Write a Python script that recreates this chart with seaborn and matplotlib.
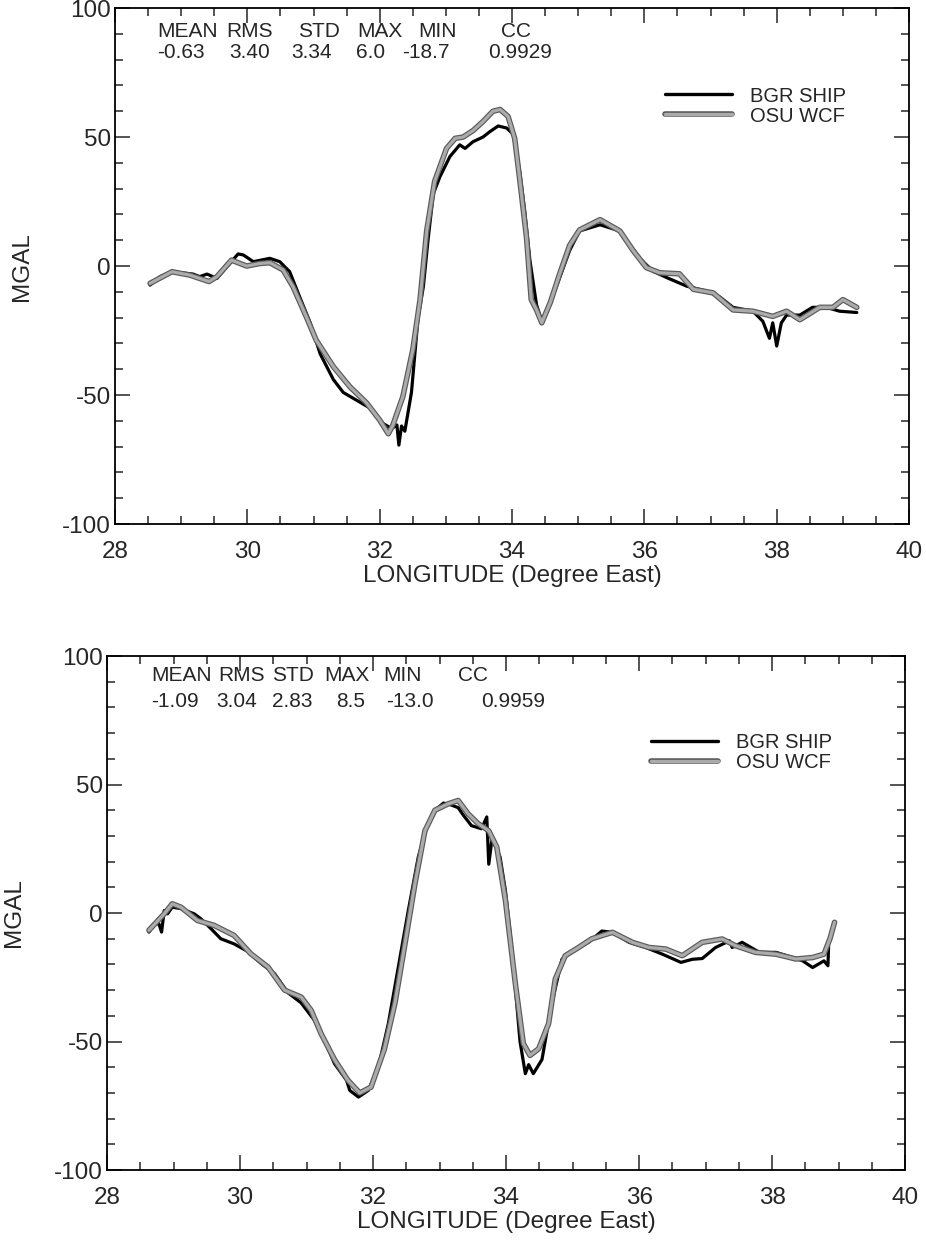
import matplotlib
matplotlib.use('Agg')
import matplotlib.pyplot as plt
import matplotlib.patheffects as pe
from matplotlib.ticker import MultipleLocator
import pandas as pd
import seaborn as sns

# adjustable constants
FONT_FAMILY = ['Liberation Sans', 'DejaVu Sans']
TICK_FONT_SIZE = 17.5
LABEL_FONT_SIZE = 17.5
STATS_FONT_SIZE = 15
LEGEND_FONT_SIZE = 14.5
SHIP_COLOR = 'black'
WCF_COLOR = '#ababab'
WCF_EDGE = '#5a5a5a'
XLIM = (28, 40)
YLIM = (-100, 100)
XLABEL = 'LONGITUDE (Degree East)'
YLABEL = 'MGAL'

STAT_NAMES = ['MEAN', 'RMS', 'STD', 'MAX', 'MIN', 'CC']
TOP_STATS = ['-0.63', '3.40', '3.34', '6.0', '-18.7', '0.9929']
BOTTOM_STATS = ['-1.09', '3.04', '2.83', '8.5', '-13.0', '0.9959']

# top profile, BGR ship gravity
top_ship_lon = [28.53, 28.68, 28.86, 29.18, 29.28, 29.39, 29.54, 29.69, 29.86, 29.94,
                30.09, 30.34, 30.49, 30.64, 30.79, 30.95, 31.10, 31.30, 31.45, 31.65,
                31.85, 32.05, 32.18, 32.26, 32.29, 32.33, 32.38, 32.48, 32.58, 32.66,
                32.73, 32.81, 32.91, 33.06, 33.21, 33.29, 33.41, 33.56, 33.66, 33.79,
                33.92, 34.02, 34.12, 34.19, 34.27, 34.37, 34.45, 34.58, 34.72, 34.87,
                35.02, 35.33, 35.63, 35.93, 36.13, 36.34, 36.64, 36.94, 37.14, 37.34,
                37.64, 37.79, 37.89, 37.94, 38.00, 38.07, 38.15, 38.35, 38.54, 38.75,
                38.95, 39.21]
top_ship_val = [-7.4, -4.1, -2.2, -3.1, -4.1, -3.1, -4.8, -0.3, 4.7, 4.3,
                1.7, 3.0, 1.7, -2.2, -11.9, -22.0, -34.0, -44.0, -49.0, -52.0,
                -55.0, -61.0, -63.0, -61.6, -69.4, -62.0, -64.0, -49.0, -20.0, -8.0,
                10.0, 28.0, 34.6, 42.4, 47.0, 45.6, 48.2, 50.0, 52.0, 54.3,
                53.5, 51.0, 36.0, 21.7, 2.3, -15.0, -21.4, -14.0, -4.5, 6.0,
                13.6, 16.0, 13.6, 3.0, -2.0, -4.5, -7.8, -9.7, -12.0, -16.0,
                -17.5, -21.4, -28.0, -22.0, -31.0, -22.0, -19.0, -19.0, -16.0, -16.0,
                -17.5, -18.0]

# top profile, OSU WCF
top_wcf_lon = [28.53, 28.86, 29.13, 29.42, 29.54, 29.76, 29.99, 30.19, 30.34, 30.54,
               30.69, 30.89, 31.04, 31.30, 31.55, 31.80, 32.00, 32.13, 32.20, 32.35,
               32.50, 32.61, 32.71, 32.83, 33.01, 33.14, 33.26, 33.41, 33.56, 33.71,
               33.82, 33.94, 34.04, 34.12, 34.22, 34.29, 34.37, 34.45, 34.58, 34.72,
               34.87, 35.02, 35.33, 35.63, 35.83, 36.03, 36.23, 36.53, 36.74, 37.04,
               37.34, 37.64, 37.94, 38.15, 38.35, 38.65, 38.85, 39.00, 39.21]
top_wcf_val = [-6.7, -2.2, -3.5, -6.0, -4.1, 2.3, 0.0, 1.0, 1.3, -1.5,
               -8.0, -19.6, -28.7, -39.0, -46.8, -53.0, -59.7, -65.0, -61.6, -50.6,
               -32.5, -13.0, 13.6, 32.8, 45.6, 49.5, 50.0, 52.5, 56.0, 60.0,
               60.7, 58.0, 49.5, 32.8, 10.8, -13.0, -17.0, -22.0, -14.0, -3.0,
               8.0, 14.0, 18.0, 13.6, 6.0, -0.6, -2.6, -3.0, -9.0, -10.4,
               -17.0, -17.5, -19.5, -17.5, -20.8, -16.0, -16.0, -13.0, -16.0]

# bottom profile, BGR ship gravity
bottom_ship_lon = [28.63, 28.71, 28.78, 28.82, 28.86, 28.91, 28.98, 29.11, 29.31, 29.41,
                   29.56, 29.71, 29.91, 30.12, 30.32, 30.52, 30.72, 30.92, 31.12, 31.27,
                   31.42, 31.60, 31.65, 31.78, 31.93, 32.08, 32.23, 32.38, 32.53, 32.68,
                   32.81, 32.93, 33.06, 33.18, 33.28, 33.36, 33.48, 33.63, 33.71, 33.74,
                   33.79, 33.91, 33.99, 34.09, 34.21, 34.29, 34.34, 34.41, 34.54, 34.69,
                   34.84, 35.04, 35.24, 35.44, 35.60, 35.85, 36.10, 36.35, 36.63, 36.80,
                   36.95, 37.15, 37.36, 37.40, 37.55, 37.81, 38.06, 38.31, 38.46, 38.61,
                   38.78, 38.84, 38.85]
bottom_ship_val = [-7.4, -4.2, -4.2, -7.4, 1.0, -0.3, 2.3, 1.7, -0.3, -2.2,
                   -6.0, -10.0, -12.0, -15.0, -19.7, -23.6, -31.0, -35.0, -41.8, -49.5,
                   -58.6, -65.0, -69.0, -71.6, -69.0, -60.0, -43.0, -21.0, 1.0, 21.8,
                   33.5, 40.0, 42.8, 42.0, 41.0, 38.0, 34.0, 32.8, 37.4, 19.0,
                   29.0, 21.8, 8.8, -14.5, -50.0, -62.5, -59.0, -62.5, -57.0, -35.0,
                   -18.0, -14.0, -11.4, -7.0, -7.5, -11.4, -13.4, -16.0, -19.2, -18.0,
                   -17.7, -13.4, -10.8, -13.4, -11.4, -15.3, -15.3, -17.3, -18.6, -21.2,
                   -18.6, -20.5, -12.7]

# bottom profile, OSU WCF
bottom_wcf_lon = [28.63, 28.86, 28.98, 29.11, 29.36, 29.61, 29.91, 30.16, 30.42, 30.67,
                  30.92, 31.07, 31.22, 31.42, 31.62, 31.80, 31.97, 32.17, 32.33, 32.48,
                  32.63, 32.78, 32.93, 33.13, 33.28, 33.43, 33.58, 33.74, 33.86, 33.99,
                  34.14, 34.26, 34.36, 34.49, 34.64, 34.74, 34.89, 35.09, 35.29, 35.60,
                  35.90, 36.15, 36.40, 36.65, 36.95, 37.25, 37.45, 37.75, 38.06, 38.36,
                  38.61, 38.78, 38.87, 38.94]
bottom_wcf_val = [-6.7, -0.3, 3.6, 2.3, -2.9, -4.8, -8.7, -15.8, -21.0, -30.0,
                  -32.7, -37.9, -47.0, -57.0, -65.0, -70.0, -67.7, -53.0, -35.0, -12.0,
                  11.4, 32.0, 40.0, 42.5, 43.8, 38.6, 34.8, 32.0, 25.7, 5.0,
                  -27.5, -50.8, -55.4, -52.8, -43.0, -25.7, -16.6, -13.4, -10.0, -7.5,
                  -11.4, -13.4, -14.0, -16.6, -11.4, -10.1, -12.7, -15.3, -16.0, -17.9,
                  -17.3, -16.0, -10.0, -3.6]


def make_frame(lon, val, source):
    return pd.DataFrame({'lon': lon, 'mgal': val, 'source': source})


def style_axes(ax):
    ax.set_xlim(XLIM)
    ax.set_ylim(YLIM)
    ax.xaxis.set_major_locator(MultipleLocator(2))
    ax.xaxis.set_minor_locator(MultipleLocator(0.5))
    ax.yaxis.set_major_locator(MultipleLocator(50))
    ax.yaxis.set_minor_locator(MultipleLocator(10))
    ax.tick_params(which='both', direction='in', top=True, right=True, width=1.1)
    ax.tick_params(which='major', length=11)
    ax.tick_params(which='minor', length=6)
    ax.tick_params(axis='x', which='major', pad=12, labelsize=TICK_FONT_SIZE)
    ax.tick_params(axis='y', which='major', pad=3, labelsize=TICK_FONT_SIZE)
    for spine in ax.spines.values():
        spine.set_linewidth(1.3)
        spine.set_color('black')
    ax.set_xlabel(XLABEL, fontsize=LABEL_FONT_SIZE, labelpad=2)
    ax.set_ylabel(YLABEL, fontsize=LABEL_FONT_SIZE, labelpad=21)


def draw_panel(ax, ship, wcf, stats, name_pos, value_pos, legend_anchor):
    sns.lineplot(data=ship, x='lon', y='mgal', ax=ax, color=SHIP_COLOR, linewidth=2.3,
                 estimator=None, sort=False, label='BGR SHIP')
    sns.lineplot(data=wcf, x='lon', y='mgal', ax=ax, color=WCF_COLOR, linewidth=2.3,
                 estimator=None, sort=False, label='OSU WCF')
    ax.lines[-1].set_path_effects([pe.Stroke(linewidth=4.0, foreground=WCF_EDGE), pe.Normal()])
    style_axes(ax)

    # statistics table in the upper left corner
    for (nx, ny), name in zip(name_pos, STAT_NAMES):
        ax.text(nx, ny, name, transform=ax.transAxes, ha='center', va='center',
                fontsize=STATS_FONT_SIZE)
    for (vx, vy), value in zip(value_pos, stats):
        ax.text(vx, vy, value, transform=ax.transAxes, ha='center', va='center',
                fontsize=STATS_FONT_SIZE)

    leg = ax.legend(loc='upper left', bbox_to_anchor=legend_anchor, frameon=False,
                    fontsize=LEGEND_FONT_SIZE, handlelength=3.3, handletextpad=0.9,
                    labelspacing=0.05, borderpad=0, borderaxespad=0)
    for line in leg.get_lines():
        line.set_linewidth(2.4)


def main():
    sns.set_style('ticks')
    plt.rcParams['font.family'] = FONT_FAMILY
    plt.rcParams['axes.unicode_minus'] = False

    top_ship = make_frame(top_ship_lon, top_ship_val, 'BGR SHIP')
    top_wcf = make_frame(top_wcf_lon, top_wcf_val, 'OSU WCF')
    bottom_ship = make_frame(bottom_ship_lon, bottom_ship_val, 'BGR SHIP')
    bottom_wcf = make_frame(bottom_wcf_lon, bottom_wcf_val, 'OSU WCF')

    fig = plt.figure(figsize=(9.26, 12.43), dpi=100)
    ax_top = fig.add_axes([0.1242, 0.5784, 0.8575, 0.4151])
    ax_bottom = fig.add_axes([0.1156, 0.0587, 0.8618, 0.4135])

    top_names = [(0.091, 0.955), (0.170, 0.955), (0.257, 0.955),
                 (0.333, 0.955), (0.406, 0.955), (0.505, 0.955)]
    top_values = [(0.083, 0.913), (0.169, 0.913), (0.247, 0.913),
                  (0.322, 0.913), (0.392, 0.913), (0.510, 0.913)]
    bottom_names = [(0.093, 0.962), (0.169, 0.962), (0.233, 0.962),
                    (0.301, 0.962), (0.370, 0.962), (0.459, 0.962)]
    bottom_values = [(0.085, 0.912), (0.163, 0.912), (0.232, 0.912),
                     (0.305, 0.912), (0.380, 0.912), (0.509, 0.912)]

    draw_panel(ax_top, top_ship, top_wcf, TOP_STATS, top_names, top_values, (0.693, 0.848))
    draw_panel(ax_bottom, bottom_ship, bottom_wcf, BOTTOM_STATS, bottom_names, bottom_values,
               (0.682, 0.850))

    fig.savefig('out.png', dpi=100)


if __name__ == '__main__':
    main()
